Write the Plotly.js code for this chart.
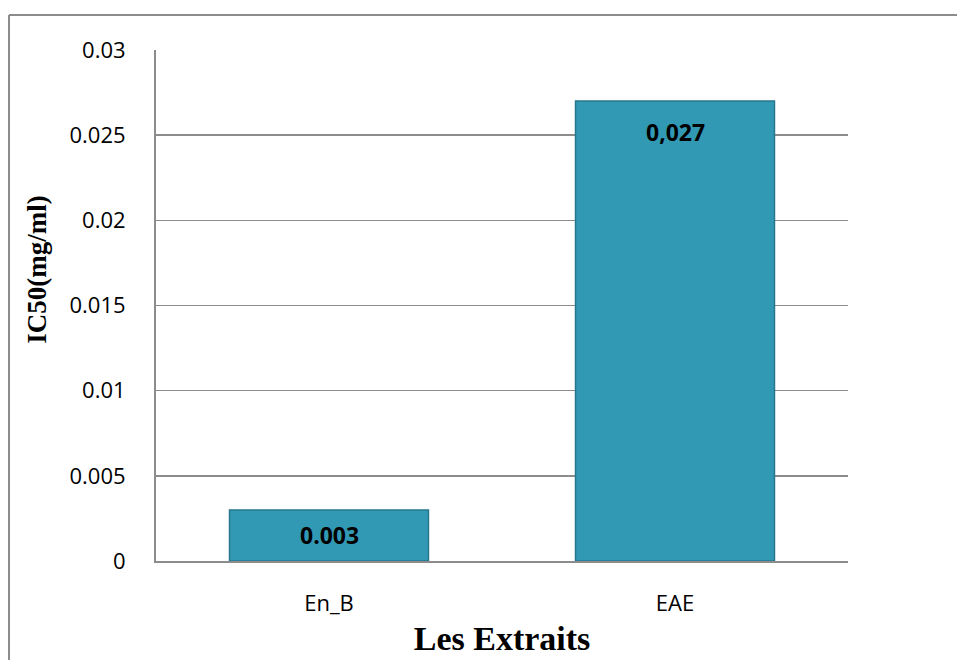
<!DOCTYPE html>
<html>
<head>
<meta charset="utf-8">
<script src="https://cdn.plot.ly/plotly-3.0.1.min.js"></script>
<style>
  html, body { margin: 0; padding: 0; background: #fff; overflow: hidden; width: 957px; height: 660px; }
  #chart { position: absolute; left: 0; top: 0; width: 957px; height: 660px; }
</style>
</head>
<body>
<div id="chart"></div>
<script>
const categories = ["En_B", "EAE"];
const values = [0.003, 0.027];
const valueLabels = ["0.003", "0,027"];
const yTickValues = [0, 0.005, 0.01, 0.015, 0.02, 0.025, 0.03];
const yTickLabels = ["0", "0.005", "0.01", "0.015", "0.02", "0.025", "0.03"];

const trace = {
  type: "bar",
  x: categories,
  y: values,
  marker: { color: "#3299b5", line: { color: "#26778d", width: 1.5 } },
  hoverinfo: "none"
};

const labelShift = [-25, -31];
const annotations = categories.map((c, i) => ({
  x: c, y: values[i], xref: "x", yref: "y",
  text: "<b>" + valueLabels[i] + "</b>",
  showarrow: false, yanchor: "middle", yshift: labelShift[i],
  font: { family: "Open Sans", size: 23, color: "#000" }
}));
annotations.push({
  xref: "paper", yref: "paper", x: -0.172, y: 0.57,
  xanchor: "center", yanchor: "middle", textangle: -90, showarrow: false,
  text: "<b>IC50(mg/ml)</b>",
  font: { family: "Liberation Serif", size: 27, color: "#000" }
});

// outer chart-area frame (top and left edges visible; right and bottom run past the picture)
const shapes = [
  { type: "line", xref: "paper", yref: "paper", x0: -0.2124, x1: 1.3, y0: 1.0685, y1: 1.0685,
    line: { color: "#8c8c8c", width: 2 } },
  { type: "line", xref: "paper", yref: "paper", x0: -0.2124, x1: -0.2124, y0: 1.0685, y1: -0.4,
    line: { color: "#8c8c8c", width: 2 } }
];

const layout = {
  width: 957, height: 660,
  margin: { l: 156, r: 109, t: 50, b: 99 },
  paper_bgcolor: "#fff",
  plot_bgcolor: "rgba(0,0,0,0)",
  showlegend: false,
  bargap: 0.425,
  xaxis: {
    type: "category",
    showgrid: false, zeroline: false,
    showline: true, linecolor: "#8c8c8c", linewidth: 2,
    ticks: "", ticklabelstandoff: 22,
    tickfont: { family: "Open Sans", size: 22, color: "#000" },
    title: { text: "<b>Les Extraits</b>", standoff: 10,
             font: { family: "Liberation Serif", size: 34, color: "#000" } }
  },
  yaxis: {
    range: [0, 0.03],
    tickvals: yTickValues, ticktext: yTickLabels,
    showgrid: true, gridcolor: "#8c8c8c", gridwidth: 1.5,
    zeroline: false,
    showline: true, linecolor: "#8c8c8c", linewidth: 2,
    ticks: "", ticklabelstandoff: 24,
    tickfont: { family: "Open Sans", size: 22, color: "#000" }
  },
  shapes: shapes,
  annotations: annotations
};

Plotly.newPlot("chart", [trace], layout, { displayModeBar: false, staticPlot: true });
</script>
</body>
</html>
